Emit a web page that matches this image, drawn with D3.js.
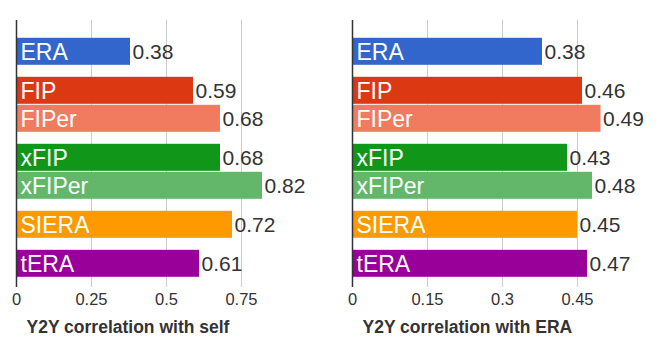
<!DOCTYPE html>
<html>
<head>
<meta charset="utf-8">
<script src="https://cdn.jsdelivr.net/npm/d3@7"></script>
<style>
  body { margin: 0; background: #fff; }
  text { font-family: "Liberation Sans", Arial, sans-serif; }
</style>
</head>
<body>
<div id="chart"></div>
<script>
// metrics, grouped as in the picture
let categories  = ['ERA', 'FIP', 'FIPer', 'xFIP', 'xFIPer', 'SIERA', 'tERA'];
let groups      = [0, 1, 1, 2, 2, 3, 4];
let colors      = ['#3366cc', '#dc3912', '#f07b5e', '#109618', '#62b76a', '#ff9900', '#990099'];

let selfValues  = [0.38, 0.59, 0.68, 0.68, 0.82, 0.72, 0.61];
let eraValues   = [0.38, 0.46, 0.497, 0.43, 0.48, 0.45, 0.47];

let selfTicks   = [0, 0.25, 0.5, 0.75];
let eraTicks    = [0, 0.15, 0.3, 0.45];

let chart_width  = 663;
let chart_height = 353;
let top_y    = 20;
let bottom_y = 287;
let bar_h    = 27;

let svg = d3.select('#chart')
    .append('svg')
    .attr('width', chart_width)
    .attr('height', chart_height);

// row centre: 28px per row, plus 11px for each group break
let yScale = d3.scaleLinear()
    .domain([0, 1])
    .range([51.3, 79.3]);

function rowY(i) {
    return yScale(i + groups[i] * 11 / 28);
}

// labels show values cut to two decimals
function fmt(v) {
    return (Math.floor(v * 100 + 1e-6) / 100).toString();
}

function drawPanel(x0, maxVal, values, ticks, title) {
    let xScale = d3.scaleLinear()
        .domain([0, maxVal])
        .range([x0, x0 + 300]);

    let g = svg.append('g');

    // grid
    g.append('g')
        .selectAll('line')
        .data(ticks.slice(1))
        .enter()
        .append('line')
        .attr('x1', d => xScale(d) + 0.5)
        .attr('x2', d => xScale(d) + 0.5)
        .attr('y1', top_y)
        .attr('y2', bottom_y)
        .attr('stroke', '#cccccc')
        .attr('stroke-width', 1);

    // axis labels
    let xAxis = d3.axisBottom(xScale)
        .tickValues(ticks)
        .tickSize(0)
        .tickPadding(6)
        .tickFormat(d => d.toString());

    let ax = g.append('g')
        .attr('transform', 'translate(0,' + bottom_y + ')')
        .call(xAxis);
    ax.select('.domain').remove();
    ax.selectAll('text')
        .attr('font-family', '"Liberation Sans", Arial, sans-serif')
        .attr('font-size', 16.5)
        .attr('fill', '#333');

    // bars
    g.append('g')
        .selectAll('rect')
        .data(values)
        .enter()
        .append('rect')
        .attr('x', xScale(0))
        .attr('y', (d, i) => rowY(i) - bar_h / 2)
        .attr('width', d => xScale(d) - xScale(0))
        .attr('height', bar_h)
        .attr('fill', (d, i) => colors[i]);

    // names inside bars
    g.append('g')
        .selectAll('text')
        .data(categories)
        .enter()
        .append('text')
        .text(d => d)
        .attr('x', xScale(0) + 4.5)
        .attr('y', (d, i) => rowY(i) + 8.7)
        .attr('font-size', 23)
        .attr('fill', '#fff');

    // values after bars
    g.append('g')
        .selectAll('text')
        .data(values)
        .enter()
        .append('text')
        .text(d => fmt(d))
        .attr('x', d => xScale(d) + 2.5)
        .attr('y', (d, i) => rowY(i) + 7.7)
        .attr('font-size', 21)
        .attr('fill', '#333');

    // axis line
    g.append('line')
        .attr('x1', xScale(0) + 0.5)
        .attr('x2', xScale(0) + 0.5)
        .attr('y1', top_y)
        .attr('y2', bottom_y)
        .attr('stroke', '#333')
        .attr('stroke-width', 1.5);

    // title
    g.append('text')
        .text(title)
        .attr('x', x0 + 10.5)
        .attr('y', 332.5)
        .attr('font-size', 17.5)
        .attr('font-weight', 'bold')
        .attr('fill', '#333');
}

drawPanel(16, 1, selfValues, selfTicks, 'Y2Y correlation with self');
drawPanel(352, 0.6, eraValues, eraTicks, 'Y2Y correlation with ERA');
</script>
</body>
</html>
